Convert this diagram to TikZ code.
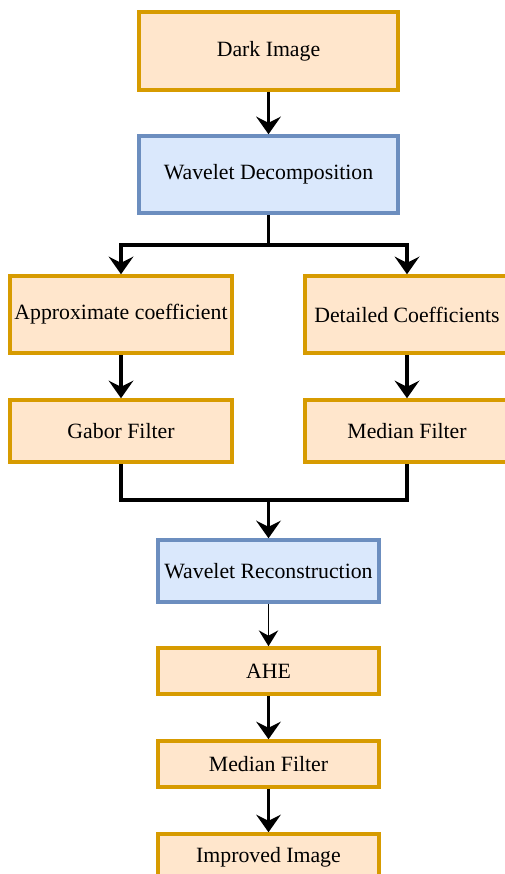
\documentclass[tikz,border=0pt]{standalone}
\usepackage{fontspec}
\setmainfont{Liberation Serif}
\usetikzlibrary{arrows.meta,positioning}
\definecolor{orgfill}{HTML}{FFE6CC}
\definecolor{orgline}{HTML}{D79B00}
\definecolor{blufill}{HTML}{DAE8FC}
\definecolor{bluline}{HTML}{6C8EBF}
\newcommand{\px}{0.02cm}
\tikzstyle{every node}=[font=\fontsize{12.4}{14}\selectfont]
\tikzstyle{obox}=[draw=orgline,fill=orgfill,line width=2pt,inner sep=1pt]
\tikzstyle{bbox}=[draw=bluline,fill=blufill,line width=2pt,inner sep=1pt]
\tikzstyle{arr}=[line width=2pt,-{Stealth[length=10pt,width=14pt,inset=3.5pt]}]

\begin{document}
\begin{tikzpicture}[x=\px,y=-\px]
  \useasboundingbox (0,0) rectangle (504,874);

  % top part
  \node[obox,minimum width=259*\px,minimum height=78*\px] (dark) at (268.5,51) {Dark Image};
  \node[bbox,minimum width=259*\px,minimum height=77*\px] (wdec) at (268.5,174.5) {Wavelet Decomposition};

  % two branches
  \node[obox,minimum width=222*\px,minimum height=77*\px] (approx) at (121,314.5) {Approximate coefficient};
  \node[obox,minimum width=204*\px,minimum height=77*\px] (detail) at (407,314.5) {Detailed Coefficients};
  \node[obox,minimum width=222*\px,minimum height=62*\px] (gabor) at (121,431) {Gabor Filter};
  \node[obox,minimum width=204*\px,minimum height=62*\px] (medianR) at (407,431) {Median Filter};

  % bottom part
  \node[bbox,minimum width=221*\px,minimum height=62*\px] (wrec) at (268.5,571) {Wavelet Reconstruction};
  \node[obox,minimum width=221*\px,minimum height=46*\px] (ahe) at (268.5,671) {AHE};
  \node[obox,minimum width=221*\px,minimum height=46*\px] (median) at (268.5,764) {Median Filter};
  \node[obox,minimum width=221*\px,minimum height=46*\px] (improved) at (268.5,857) {Improved Image};

  \coordinate (split) at (268.5,245);
  \coordinate (merge) at (268.5,500);

  % connectors
  \draw[arr] (dark) -- (wdec);
  \draw[line width=2pt] (wdec) -- (split);
  \draw[arr] (split) -| (approx);
  \draw[arr] (split) -| (detail);
  \draw[arr] (approx) -- (gabor);
  \draw[arr] (detail) -- (medianR);
  \draw[line width=2pt] (gabor) |- (merge);
  \draw[line width=2pt] (medianR) |- (merge);
  \draw[arr] (merge) -- (wrec);
  \draw[line width=0.9pt,-{Stealth[length=9pt,width=11pt,inset=3pt]}] (wrec) -- (ahe);
  \draw[arr] (ahe) -- (median);
  \draw[arr] (median) -- (improved);
\end{tikzpicture}
\end{document}
